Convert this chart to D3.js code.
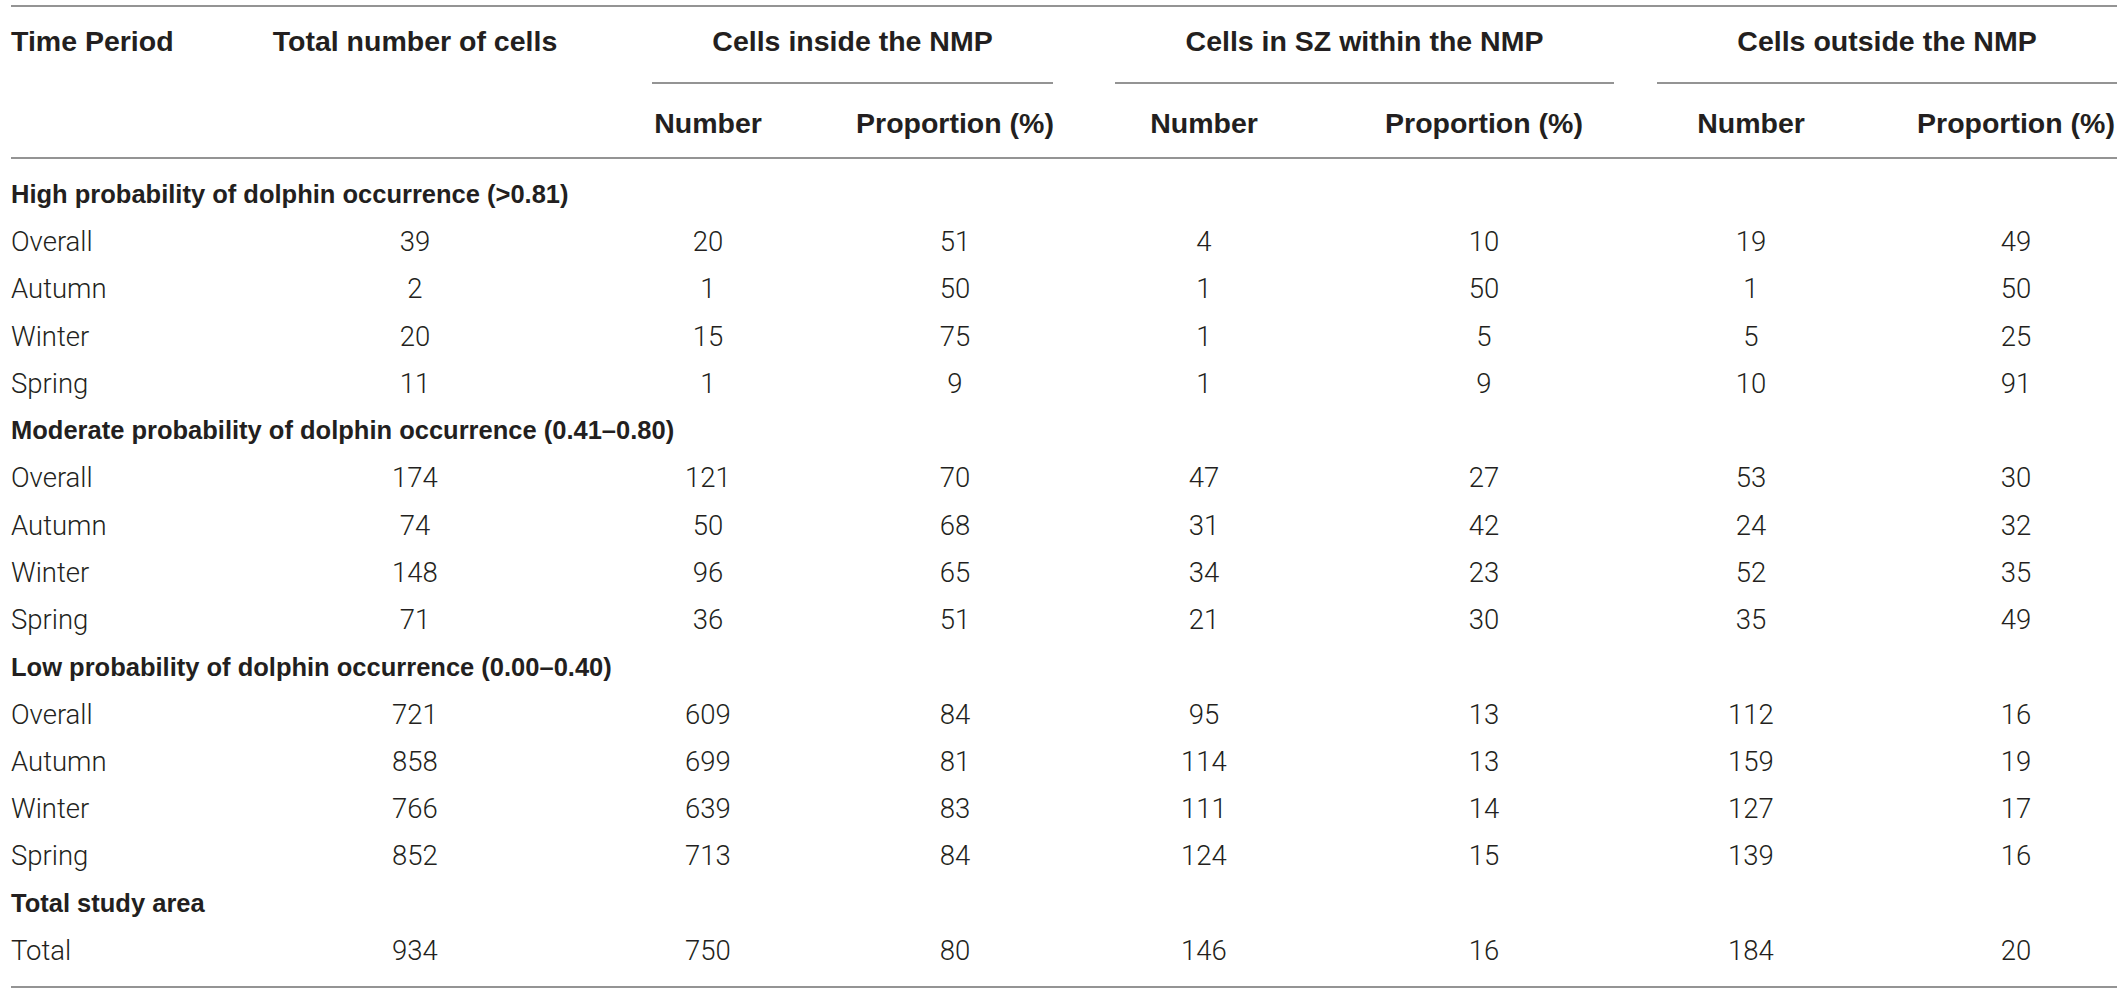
<!DOCTYPE html>
<html>
<head>
<meta charset="utf-8">
<script src="https://cdn.jsdelivr.net/npm/d3@7"></script>
<style>
  html, body { margin: 0; padding: 0; background: #fff; }
  svg text { fill: #231f20; }
  .hd { font-family: "Liberation Sans", Arial, sans-serif; font-weight: 700; font-size: 28.5px; }
  .sec { font-family: "Liberation Sans", Arial, sans-serif; font-weight: 700; font-size: 25.5px; }
  .cell { font-family: Roboto, "Liberation Sans", sans-serif; font-weight: 300; font-size: 27.5px; }
  .rule { stroke: #707070; stroke-width: 1.5; }
</style>
</head>
<body>
<div id="table"></div>
<script>
//****************************************************************************
//Data

const sections = [
  "High probability of dolphin occurrence (>0.81)",
  "Moderate probability of dolphin occurrence (0.41\u20130.80)",
  "Low probability of dolphin occurrence (0.00\u20130.40)",
  "Total study area"
];
const sectionPeriods = [
  ["Overall", "Autumn", "Winter", "Spring"],
  ["Overall", "Autumn", "Winter", "Spring"],
  ["Overall", "Autumn", "Winter", "Spring"],
  ["Total"]
];

// one entry per data row, top to bottom
const totalCells  = [39, 2, 20, 11, 174, 74, 148, 71, 721, 858, 766, 852, 934];
const insideNum   = [20, 1, 15, 1, 121, 50, 96, 36, 609, 699, 639, 713, 750];
const insidePct   = [51, 50, 75, 9, 70, 68, 65, 51, 84, 81, 83, 84, 80];
const szNum       = [4, 1, 1, 1, 47, 31, 34, 21, 95, 114, 111, 124, 146];
const szPct       = [10, 50, 5, 9, 27, 42, 23, 30, 13, 13, 14, 15, 16];
const outsideNum  = [19, 1, 5, 10, 53, 24, 52, 35, 112, 159, 127, 139, 184];
const outsidePct  = [49, 50, 25, 91, 30, 32, 35, 49, 16, 19, 17, 16, 20];

const groupHeaders = ["Cells inside the NMP", "Cells in SZ within the NMP", "Cells outside the NMP"];
const subHeaders = ["Number", "Proportion (%)"];

//****************************************************************************
//Layout

const canvWidth = 2121, canvHeight = 993;
const tableLeft = 11, tableRight = 2117;
const textLeft = 11;

// column keys and their horizontal centres
const colKeys = ["total", "inN", "inP", "szN", "szP", "outN", "outP"];
const colX = d3.scaleOrdinal().domain(colKeys).range([415, 708, 955, 1204, 1484, 1751, 2016]);
const groupSpans = [[652, 1053], [1115, 1614], [1657, 2117]];

const yTopRule = 6, yHead1 = 41, ySubRule = 83, yHead2 = 123, yHeadRule = 158, yBottomRule = 987;

//****************************************************************************
//Build rows

let rows = [];
let k = 0;
sections.forEach((s, i) => {
  rows.push({type: "section", label: s});
  sectionPeriods[i].forEach(p => {
    rows.push({
      type: "data", label: p,
      values: [totalCells[k], insideNum[k], insidePct[k], szNum[k], szPct[k], outsideNum[k], outsidePct[k]]
    });
    k++;
  });
});

const yRow = d3.scaleLinear().domain([0, rows.length - 1]).range([194, 950]);

//****************************************************************************
//Draw

const svg = d3.select("#table").append("svg")
  .attr("width", canvWidth)
  .attr("height", canvHeight);

// rules
[yTopRule, yHeadRule, yBottomRule].forEach(y => {
  svg.append("line").attr("class", "rule")
    .attr("x1", tableLeft).attr("x2", tableRight)
    .attr("y1", y).attr("y2", y);
});

groupSpans.forEach(sp => {
  svg.append("line").attr("class", "rule")
    .attr("x1", sp[0]).attr("x2", sp[1])
    .attr("y1", ySubRule).attr("y2", ySubRule);
});

// header row 1
svg.append("text").attr("class", "hd")
  .attr("x", textLeft).attr("y", yHead1).attr("dy", "0.36em")
  .text("Time Period");

svg.append("text").attr("class", "hd")
  .attr("x", colX("total")).attr("y", yHead1).attr("dy", "0.36em")
  .style("text-anchor", "middle")
  .text("Total number of cells");

svg.selectAll("text.group")
  .data(groupHeaders)
  .enter().append("text")
  .attr("class", "hd group")
  .attr("x", (d, i) => (groupSpans[i][0] + groupSpans[i][1]) / 2)
  .attr("y", yHead1).attr("dy", "0.36em")
  .style("text-anchor", "middle")
  .text(d => d);

// header row 2
svg.selectAll("text.sub")
  .data(colKeys.slice(1))
  .enter().append("text")
  .attr("class", "hd sub")
  .attr("x", d => colX(d))
  .attr("y", yHead2).attr("dy", "0.36em")
  .style("text-anchor", "middle")
  .text((d, i) => subHeaders[i % 2]);

// body
const gRows = svg.selectAll("g.row")
  .data(rows)
  .enter().append("g")
  .attr("class", "row")
  .attr("transform", (d, i) => `translate(0,${yRow(i)})`);

gRows.append("text")
  .attr("class", d => d.type === "section" ? "sec" : "cell")
  .attr("x", textLeft)
  .attr("dy", "0.36em")
  .text(d => d.label);

gRows.filter(d => d.type === "data")
  .selectAll("text.val")
  .data(d => d.values)
  .enter().append("text")
  .attr("class", "cell val")
  .attr("x", (d, i) => colX(colKeys[i]))
  .attr("dy", "0.36em")
  .style("text-anchor", "middle")
  .text(d => d);
</script>
</body>
</html>
